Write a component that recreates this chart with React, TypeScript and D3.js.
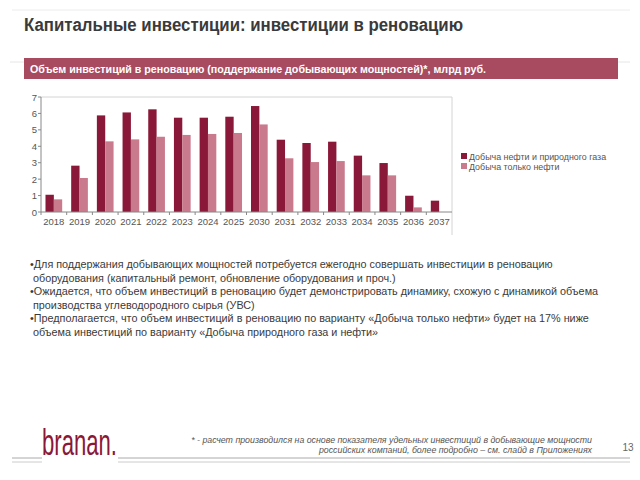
import React from "react";
import * as d3 from "d3";

const years = ["2018","2019","2020","2021","2022","2023","2024","2025","2030","2031","2032","2033","2034","2035","2036","2037"];
const oilGas = [1.05,2.82,5.88,6.06,6.25,5.74,5.74,5.80,6.45,4.40,4.20,4.28,3.43,2.98,0.99,0.69];
const oilOnly = [0.77,2.07,4.30,4.42,4.58,4.69,4.75,4.81,5.33,3.27,3.04,3.10,2.23,2.23,0.28,0];
const seriesNames = ["Добыча нефти и природного газа","Добыча только нефти"];
const seriesColors = ["#8a1838","#c97b8d"];
const yTicks = [0,1,2,3,4,5,6,7];
const bullets = [
  "•Для поддержания добывающих мощностей потребуется ежегодно совершать инвестиции в реновацию",
  " оборудования (капитальный ремонт, обновление оборудования и проч.)",
  "•Ожидается, что объем инвестиций в реновацию будет демонстрировать динамику, схожую с динамикой объема",
  " производства углеводородного сырья (УВС)",
  "•Предполагается, что объем инвестиций в реновацию по варианту «Добыча только нефти» будет на 17% ниже",
  " объема инвестиций по варианту «Добыча природного газа и нефти»",
];
const footnote = [
  "* - расчет производился на основе показателя удельных инвестиций в добывающие мощности",
  "российских компаний, более подробно – см. слайд в Приложениях",
];

export default function App() {
  const W = 640, H = 480;
  const x0 = 41, x1 = 452, yTop = 97, yBot = 212;
  const x = d3.scaleBand<string>().domain(years).range([x0, x1]).paddingInner(0.35).paddingOuter(0.175);
  const xs = d3.scaleBand<number>().domain([0, 1]).range([0, x.bandwidth()]);
  const y = d3.scaleLinear().domain([0, 7]).range([yBot, yTop]);
  const step = x.step();
  const font = "Liberation Sans, Arial, sans-serif";
  const data = [oilGas, oilOnly];
  return (
    <svg width={W} height={H} style={{ position: "absolute", left: 0, top: 0, background: "#fff" }} fontFamily={font}>
      <line x1={12} x2={630} y1={10} y2={10} stroke="#ececec" />
      <text x={24} y={31} fontSize={17.5} fill="#3a3a3a" fontWeight={600} textLength={439} lengthAdjust="spacingAndGlyphs">Капитальные инвестиции: инвестиции в реновацию</text>
      <line x1={10} x2={630} y1={62} y2={62} stroke="#e6e6e6" />
      <rect x={24} y={58} width={594} height={21} fill="#a84a60" />
      <text x={30} y={73} fontSize={11} fill="#fff" fontWeight="bold" textLength={456} lengthAdjust="spacingAndGlyphs">Объем инвестиций в реновацию (поддержание добывающих мощностей)*, млрд руб.</text>

      {/* plot frame */}
      <line x1={x0} x2={x1} y1={yTop} y2={yTop} stroke="#d4d4d4" />
      <line x1={x1} x2={x1} y1={yTop} y2={235} stroke="#d4d4d4" />
      {/* bars */}
      {data.map((s, si) =>
        s.map((v, i) => (
          <rect key={`${si}-${i}`} x={(x(years[i]) as number) + (xs(si) as number)} y={y(v)} width={xs.bandwidth()} height={yBot - y(v)} fill={seriesColors[si]} />
        ))
      )}
      {/* axes */}
      <line x1={x0} x2={x0} y1={yTop} y2={yBot} stroke="#888" />
      <line x1={x0} x2={x1} y1={yBot} y2={yBot} stroke="#888" />
      {yTicks.map((t) => (
        <g key={t}>
          <line x1={x0 - 3} x2={x0} y1={y(t)} y2={y(t)} stroke="#888" />
          <text x={x0 - 4} y={y(t) + 3.5} fontSize={9.5} fill="#555" textAnchor="end">{t}</text>
        </g>
      ))}
      {years.map((yr, i) => (
        <g key={yr}>
          <line x1={x0 + i * step} x2={x0 + i * step} y1={yBot} y2={yBot + 3} stroke="#888" />
          <text x={(x(yr) as number) + x.bandwidth() / 2} y={225} fontSize={9.5} fill="#555" textAnchor="middle">{yr}</text>
        </g>
      ))}
      {/* legend */}
      {seriesNames.map((n, i) => (
        <g key={n}>
          <rect x={461} y={153 + i * 10} width={6} height={6} fill={seriesColors[i]} />
          <text x={469} y={159.5 + i * 10} fontSize={8.9} fill="#555">{n}</text>
        </g>
      ))}
      {/* bullets */}
      {bullets.map((b, i) => (
        <text key={i} x={30} y={268 + i * 13.5} fontSize={10.8} fill="#3a3a3a" style={{ whiteSpace: "pre" }}>{b}</text>
      ))}
      {/* footer */}
      <text x={42} y={455} fontSize={36} fill="#8a1838" textLength={75} lengthAdjust="spacingAndGlyphs">branan.</text>
      <line x1={12} x2={42} y1={458} y2={458} stroke="#aaa" />
      <line x1={12} x2={42} y1={462} y2={462} stroke="#ccc" />
      <line x1={118} x2={630} y1={458} y2={458} stroke="#aaa" />
      <line x1={118} x2={630} y1={462} y2={462} stroke="#ccc" />
      <text x={592} y={443} fontSize={8.8} fill="#555" fontStyle="italic" textAnchor="end">{footnote[0]}</text>
      <text x={592} y={453} fontSize={8.8} fill="#555" fontStyle="italic" textAnchor="end">{footnote[1]}</text>
      <text x={628} y={451} fontSize={10} fill="#666" textAnchor="middle">13</text>
    </svg>
  );
}
